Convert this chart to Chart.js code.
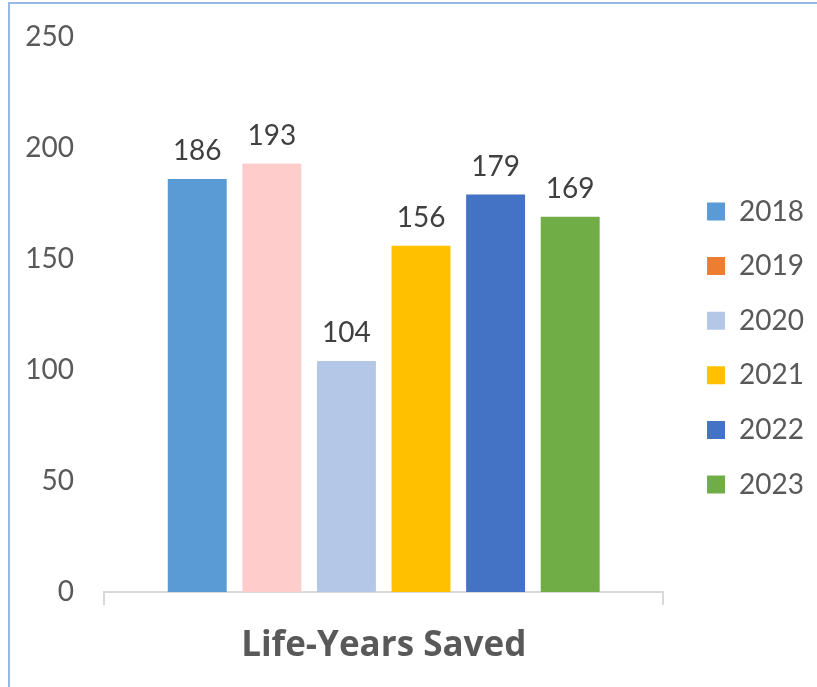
<!DOCTYPE html>
<html>
<head>
<meta charset="utf-8">
<script src="https://cdn.jsdelivr.net/npm/chart.js@4"></script>
<style>
    html, body { margin: 0; padding: 0; background: #fff; }
    .wrap { position: relative; width: 817px; height: 687px; overflow: hidden; }
    .frame {
        position: absolute; left: 8px; top: 2px; width: 900px; height: 800px;
        border-left: 2px solid #95B9E3; border-top: 2px solid #95B9E3;
        pointer-events: none;
    }
</style>
</head>
<body>
<div class="wrap">
    <canvas id="lifeChart" width="817" height="687"></canvas>
    <div class="frame"></div>
</div>
<script>
// data
const categories = [''];
const years = ['2018', '2019', '2020', '2021', '2022', '2023'];
const values = [186, 193, 104, 156, 179, 169];
const barColors = ['#5B9BD5', '#FFCCCC', '#B4C7E7', '#FFC000', '#4472C4', '#70AD47'];
const legendColors = ['#5B9BD5', '#ED7D31', '#B4C7E7', '#FFC000', '#4472C4', '#70AD47'];
const yTicks = [0, 50, 100, 150, 200, 250];

const FONT = 'Lato';
const LEGEND_GAP = 17;

Chart.defaults.font.family = FONT;
Chart.defaults.color = '#595959';

// value labels above each bar
const valueLabels = {
    id: 'valueLabels',
    afterDatasetsDraw(chart) {
        const ctx = chart.ctx;
        ctx.save();
        ctx.font = `28px ${FONT}`;
        ctx.fillStyle = '#404040';
        ctx.textAlign = 'center';
        ctx.textBaseline = 'alphabetic';
        chart.data.datasets.forEach((ds, i) => {
            chart.getDatasetMeta(i).data.forEach((bar, j) => {
                ctx.fillText(ds.data[j], bar.x, bar.y - 19);
            });
        });
        ctx.restore();
    }
};

// push the legend a bit away from the plot area
const legendGap = {
    id: 'legendGap',
    beforeUpdate(chart) {
        const lg = chart.legend;
        if (lg && !lg.$gap) {
            const fit = lg.fit;
            lg.fit = function () {
                fit.call(this);
                this.width += LEGEND_GAP;
            };
            lg.$gap = true;
        }
    },
    afterLayout(chart) {
        if (chart.legend) chart.legend.left += LEGEND_GAP;
    }
};

const datasets = years.map((year, i) => ({
    label: year,
    data: [values[i]],
    backgroundColor: barColors[i],
    borderWidth: 0,
    categoryPercentage: 0.8,
    barPercentage: 0.79
}));

new Chart(document.getElementById('lifeChart'), {
    type: 'bar',
    data: { labels: categories, datasets: datasets },
    plugins: [valueLabels, legendGap],
    options: {
        responsive: false,
        animation: false,
        layout: { padding: { left: 25, right: 3, top: 28, bottom: 19 } },
        scales: {
            x: {
                grid: {
                    display: true,
                    drawOnChartArea: false,
                    drawTicks: true,
                    tickLength: 13,
                    color: '#D9D9D9',
                    lineWidth: 2
                },
                border: { display: true, color: '#D9D9D9', width: 2 },
                ticks: { display: false },
                title: {
                    display: true,
                    text: 'Life-Years Saved',
                    color: '#595959',
                    font: { family: 'Open Sans', size: 35, weight: 'bold' },
                    padding: { top: 20, bottom: 1 }
                }
            },
            y: {
                min: 0,
                max: 250,
                afterBuildTicks(scale) {
                    scale.ticks = yTicks.map(v => ({ value: v }));
                },
                afterFit(scale) {
                    scale.width = 79;
                    scale.paddingTop = 37;
                    scale.paddingBottom = 0;
                },
                grid: { display: false, drawTicks: false },
                border: { display: false },
                ticks: {
                    padding: 30,
                    color: '#595959',
                    font: { size: 28 }
                }
            }
        },
        plugins: {
            legend: {
                position: 'right',
                labels: {
                    boxWidth: 18,
                    boxHeight: 18,
                    padding: 26.6,
                    color: '#595959',
                    font: { size: 28 },
                    generateLabels(chart) {
                        return chart.data.datasets.map((ds, i) => ({
                            text: ds.label,
                            fillStyle: legendColors[i],
                            strokeStyle: legendColors[i],
                            lineWidth: 0,
                            fontColor: '#595959',
                            hidden: false,
                            datasetIndex: i
                        }));
                    }
                }
            },
            tooltip: { enabled: false }
        }
    }
});
</script>
</body>
</html>
